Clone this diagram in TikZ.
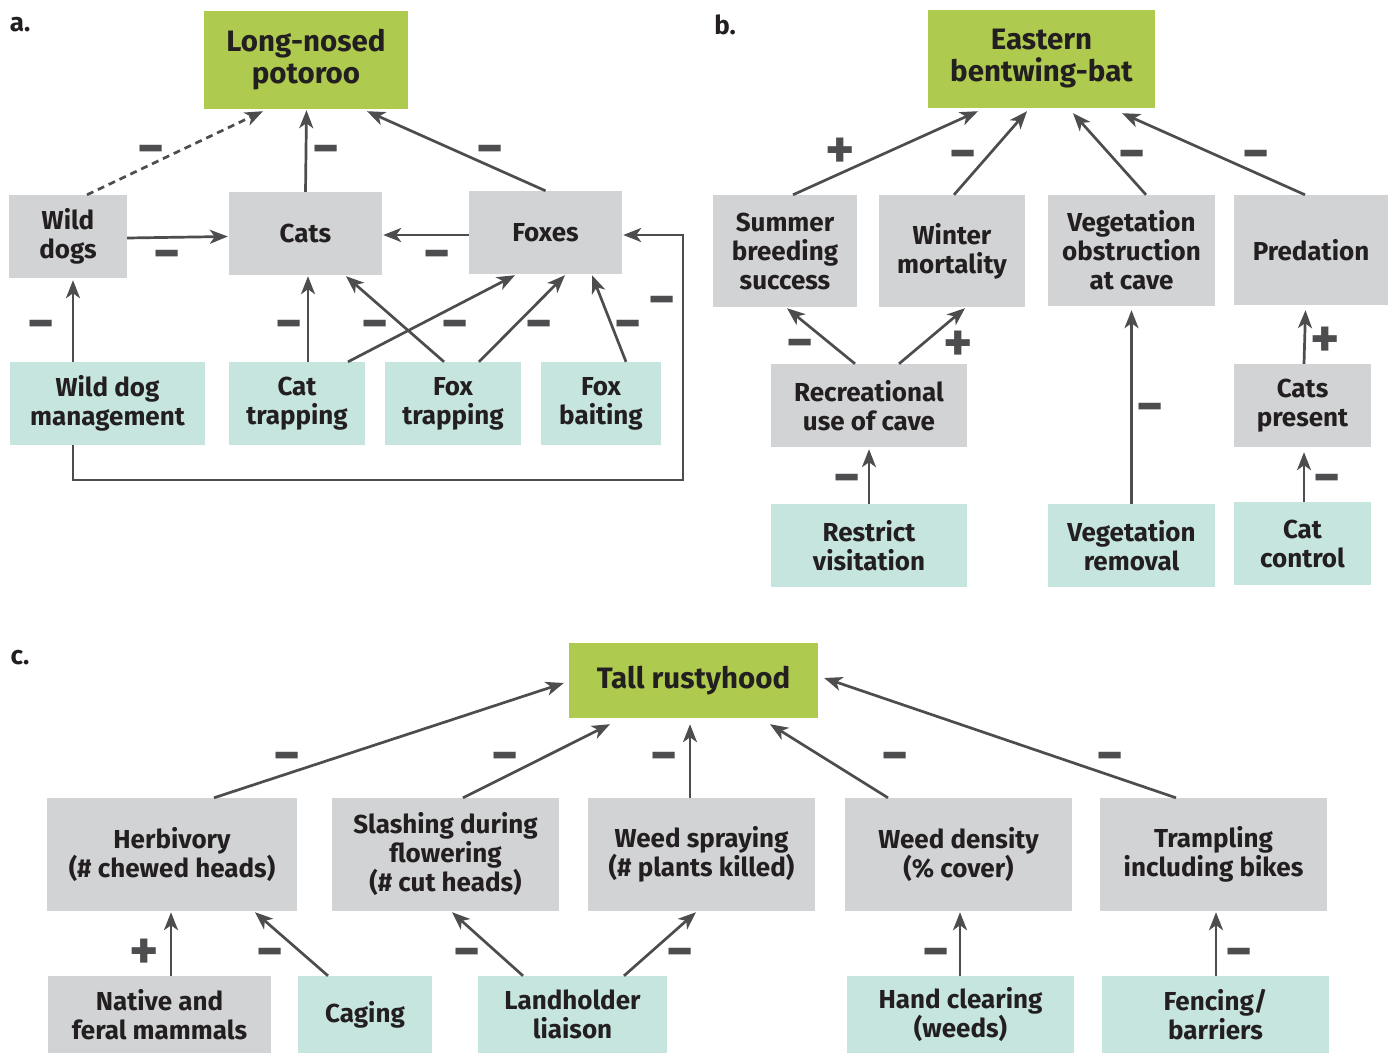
\documentclass[tikz,border=0pt]{standalone}
\usepackage{fontspec}
\setmainfont{Fira Sans}
\usetikzlibrary{arrows.meta,calc}
\definecolor{gfill}{HTML}{AFCB4F}
\definecolor{bgray}{HTML}{D1D3D4}
\definecolor{bteal}{HTML}{C6E5DF}
\definecolor{arr}{HTML}{4D4D4F}
\definecolor{txt}{HTML}{231F20}
\tikzset{
  base/.style={draw=none, inner sep=0pt, align=center, text=txt,
    font=\bfseries\fontsize{26}{29}\selectfont},
  goal/.style={base, fill=gfill, font=\bfseries\fontsize{29.5}{32}\selectfont},
  factor/.style={base, fill=bgray},
  action/.style={base, fill=bteal},
  link/.style={draw=arr, line width=2.7pt, -{Stealth[length=18pt,width=14pt,inset=5pt]}},
  signbase/.style={text=arr, font=\bfseries\fontsize{30}{30}\selectfont, inner sep=0pt},
  sign/.style={signbase, yshift=-8pt},
  psign/.style={signbase, yshift=-3.5pt},
  panel/.style={text=txt, font=\bfseries\fontsize{26}{26}\selectfont, inner sep=0pt}
}
\newcommand{\mn}{\scalebox{1.75}[1.8]{−}}
\newcommand{\pl}{\scalebox{1.85}[1.85]{+}}
\begin{document}
\begin{tikzpicture}[x=1pt,y=-1pt]
\useasboundingbox (0,0) rectangle (1394,1054);
\fill[white] (0,0) rectangle (1394,1054);

% ---------------- panel a ----------------
\node[panel] (la) at (20,25) {a.};
\node[goal, minimum width=204pt, minimum height=98pt] (pot) at (306,60) {Long-nosed\\potoroo};
\node[factor, minimum width=118pt, minimum height=83pt] (wd) at (68,236.5) {Wild\\dogs};
\node[factor, minimum width=153pt, minimum height=83pt] (cats) at (305.5,233.5) {Cats};
\node[factor, minimum width=153pt, minimum height=83pt] (fox) at (545.5,232.5) {Foxes};
\node[action, minimum width=195pt, minimum height=83pt] (wdm) at (107.5,403.5) {Wild dog\\management};
\node[action, minimum width=136pt, minimum height=83pt] (ct) at (297,403.5) {Cat\\trapping};
\node[action, minimum width=136pt, minimum height=83pt] (ft) at (453,403.5) {Fox\\trapping};
\node[action, minimum width=120pt, minimum height=83pt] (fb) at (601,403.5) {Fox\\baiting};

\draw[link, dashed, dash pattern=on 7pt off 5pt] ([xshift=19pt]wd.north) -- ([xshift=-43pt,yshift=-2pt]pot.south);
\draw[link] (cats.north) -- ([xshift=0.5pt,yshift=-1pt]pot.south);
\draw[link] (fox.north) -- ([xshift=61pt,yshift=-2pt]pot.south);
\draw[link] ([yshift=-1.5pt]wd.east) -- ([xshift=-1pt]wd.east -| cats.west);
\draw[link] ([yshift=-2.5pt]fox.west) -- ([xshift=1pt,yshift=-2.5pt]fox.west -| cats.east);
\draw[link] ([xshift=-34.5pt]wdm.north) -- ([xshift=5pt,yshift=-2pt]wd.south);
\draw[link] ([xshift=11pt]ct.north) -- ([xshift=2.5pt,yshift=-1pt]cats.south);
\draw[link] ([xshift=-9pt]ft.north) -- ([xshift=40.5pt,yshift=-1pt]cats.south);
\draw[link] ([xshift=51pt]ct.north) -- ([xshift=-30.5pt,yshift=-1pt]fox.south);
\draw[link] ([xshift=26pt]ft.north) -- ([xshift=19.5pt,yshift=-1pt]fox.south);
\draw[link] ([xshift=25pt]fb.north) -- ([xshift=46.5pt,yshift=-1pt]fox.south);
\coordinate (loop) at (683,480);
\draw[link] ([xshift=-34.5pt]wdm.south) |- (loop) |- ([xshift=1pt,yshift=-2.5pt]fox.east);

\node[sign] at (151,148) {\mn};
\node[sign] at (326,148) {\mn};
\node[sign] at (490,148) {\mn};
\node[sign] at (167,253) {\mn};
\node[sign] at (437,253) {\mn};
\node[sign] at (41,323) {\mn};
\node[sign] at (289,323) {\mn};
\node[sign] at (375,323) {\mn};
\node[sign] at (455,323) {\mn};
\node[sign] at (539,323) {\mn};
\node[sign] at (628,323) {\mn};
\node[sign] at (662,299) {\mn};

% ---------------- panel b ----------------
\node[panel] (lb) at (725,25) {b.};
\node[goal, minimum width=227pt, minimum height=98pt] (bat) at (1041.5,59) {Eastern\\bentwing-bat};
\node[factor, minimum width=144pt, minimum height=112pt] (sbs) at (785,251) {Summer\\breeding\\success};
\node[factor, minimum width=146pt, minimum height=112pt] (wm) at (952,251) {Winter\\mortality};
\node[factor, minimum width=167pt, minimum height=111pt] (vo) at (1131.5,250.5) {Vegetation\\obstruction\\at cave};
\node[factor, minimum width=154pt, minimum height=110pt] (pred) at (1311,250) {Predation};
\node[factor, minimum width=196pt, minimum height=83pt] (rec) at (869,405.5) {Recreational\\use of cave};
\node[action, minimum width=196pt, minimum height=83pt] (rv) at (869,545.5) {Restrict\\visitation};
\node[action, minimum width=167pt, minimum height=83pt] (vr) at (1131.5,545.5) {Vegetation\\removal};
\node[factor, minimum width=137pt, minimum height=83pt] (cp) at (1302.5,405.5) {Cats\\present};
\node[action, minimum width=137pt, minimum height=83pt] (cc) at (1302.5,543.5) {Cat\\control};

\draw[link] ([xshift=8pt]sbs.north) -- ([xshift=-63.5pt,yshift=-3pt]bat.south);
\draw[link] ([xshift=2pt]wm.north) -- ([xshift=-14.5pt,yshift=-3pt]bat.south);
\draw[link] ([xshift=14.5pt]vo.north) -- ([xshift=31.5pt,yshift=-5pt]bat.south);
\draw[link] ([xshift=-6pt]pred.north) -- ([xshift=80.5pt,yshift=-5pt]bat.south);
\draw[link] ([xshift=-14pt]rec.north) -- ([xshift=2pt,yshift=-1pt]sbs.south);
\draw[link] ([xshift=30pt]rec.north) -- ([xshift=13pt,yshift=-1pt]wm.south);
\draw[link] (rv.north) -- ([yshift=-2pt]rec.south);
\draw[link] (vr.north) -- ([yshift=-4pt]vo.south);
\draw[link] ([xshift=1.5pt]cp.north) -- ([xshift=-5.5pt,yshift=-5pt]pred.south);
\draw[link] ([xshift=1.5pt]cc.north) -- ([xshift=1.5pt,yshift=-5pt]cp.south);

\node[psign] at (840,150) {\pl};
\node[sign] at (963,153) {\mn};
\node[sign] at (1132,153) {\mn};
\node[sign] at (1256,153) {\mn};
\node[sign] at (800,342) {\mn};
\node[psign] at (958,343) {\pl};
\node[sign] at (847,477) {\mn};
\node[sign] at (1150,406) {\mn};
\node[psign] at (1325,339) {\pl};
\node[sign] at (1327,477) {\mn};

% ---------------- panel c ----------------
\node[panel] (lc) at (20,658) {c.};
\node[goal, minimum width=249pt, minimum height=75pt] (tr) at (693.5,680.5) {Tall rustyhood};
\node[factor, minimum width=250pt, minimum height=113pt] (herb) at (172,854.5) {Herbivory\\(\# chewed heads)};
\node[factor, minimum width=227pt, minimum height=113pt] (sl) at (445.5,854.5) {Slashing during\\flowering\\(\# cut heads)};
\node[factor, minimum width=227pt, minimum height=113pt] (ws) at (701.5,854.5) {Weed spraying\\(\# plants killed)};
\node[factor, minimum width=227pt, minimum height=113pt] (wdn) at (958.5,854.5) {Weed density\\(\% cover)};
\node[factor, minimum width=227pt, minimum height=113pt] (tra) at (1213.5,854.5) {Trampling\\including bikes};
\node[factor, minimum width=223pt, minimum height=77pt] (nat) at (159.5,1014.5) {Native and\\feral mammals};
\node[action, minimum width=134pt, minimum height=77pt] (cag) at (365,1014.5) {Caging};
\node[action, minimum width=189pt, minimum height=77pt] (lh) at (572.5,1014.5) {Landholder\\liaison};
\node[action, minimum width=227pt, minimum height=77pt] (hc) at (960.5,1014.5) {Hand clearing\\(weeds)};
\node[action, minimum width=227pt, minimum height=77pt] (fen) at (1215.5,1014.5) {Fencing/\\barriers};

\draw[link] ([xshift=42pt]herb.north) -- ([xshift=-5pt,yshift=-2.5pt]tr.west);
\draw[link] ([xshift=17.5pt]sl.north) -- ([xshift=-83.5pt,yshift=-6pt]tr.south);
\draw[link] ([xshift=-11.5pt]ws.north) -- ([xshift=-3.5pt,yshift=-6pt]tr.south);
\draw[link] ([xshift=-70.5pt]wdn.north) -- ([xshift=76.5pt,yshift=-6pt]tr.south);
\draw[link] ([xshift=-37.5pt]tra.north) -- ([xshift=6pt,yshift=2.5pt]tr.east);
\draw[link] ([xshift=11.5pt]nat.north) -- ([xshift=-1pt,yshift=-1pt]herb.south);
\draw[link] ([xshift=-37pt]cag.north) -- ([xshift=83pt,yshift=-1pt]herb.south);
\draw[link] ([xshift=-49.5pt]lh.north) -- ([xshift=6.5pt,yshift=-1pt]sl.south);
\draw[link] ([xshift=51.5pt]lh.north) -- ([xshift=-5.5pt,yshift=-1pt]ws.south);
\draw[link] ([xshift=-0.5pt]hc.north) -- ([xshift=1.5pt,yshift=-1pt]wdn.south);
\draw[link] ([xshift=0.5pt]fen.north) -- ([xshift=2.5pt,yshift=-1pt]tra.south);

\node[sign] at (287,755) {\mn};
\node[sign] at (505,755) {\mn};
\node[sign] at (664,755) {\mn};
\node[sign] at (895,755) {\mn};
\node[sign] at (1110,755) {\mn};
\node[psign] at (144,951) {\pl};
\node[sign] at (270,951) {\mn};
\node[sign] at (467,951) {\mn};
\node[sign] at (680,951) {\mn};
\node[sign] at (936,951) {\mn};
\node[sign] at (1239,951) {\mn};
\end{tikzpicture}
\end{document}
